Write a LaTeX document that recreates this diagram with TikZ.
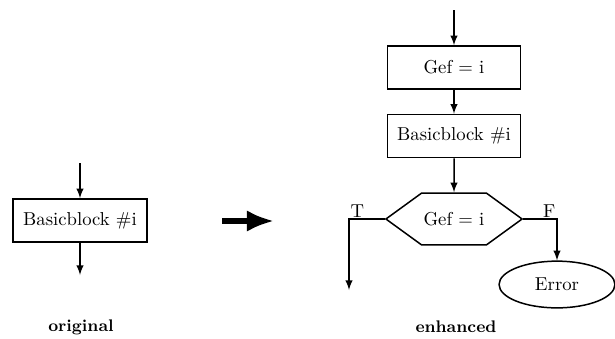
\documentclass[tikz,border=0pt]{standalone}
\usetikzlibrary{shapes.symbols,shapes.geometric,arrows.meta}
\begin{document}
\begin{tikzpicture}[x=0.535pt,y=-0.535pt,
  block/.style={rectangle,draw=black,thick,minimum width=71pt,minimum height=23pt,inner sep=2pt},
  test/.style={signal,signal to=west and east,signal pointer angle=72,draw=black,thick,minimum width=72.8pt,minimum height=27.8pt,inner sep=1pt},
  stop/.style={ellipse,draw=black,thick,minimum width=62pt,minimum height=25pt,inner sep=1pt},
  caption/.style={font=\small\bfseries},
  flow/.style={-latex,thick}]
\useasboundingbox (0,0) rectangle (615,338);

% original
\coordinate (ltop) at (80,163);
\node[block,minimum width=71.7pt] (lbb) at (80,220.5) {Basicblock \#i};
\coordinate (lend) at (80,275);
\node[caption] (orig) at (81,327) {original};

\draw[flow] (ltop) -- (lbb);
\draw[flow] (lbb) -- (lend);

% transform
\coordinate (a1) at (222,221);
\coordinate (a2) at (274,221);
\draw[line width=2.7pt,-{Latex[length=14.5pt,width=11.5pt]}] (a1) -- (a2);

% enhanced
\coordinate (rtop) at (454,10);
\node[block] (gef)  at (454,67.5) {Gef = i};
\node[block] (bb)   at (454,136)  {Basicblock \#i};
\node[test]  (hex)  at (454,219)  {Gef = i};
\coordinate (tend) at (349,290);
\node[stop]  (err)  at (557,284.5) {Error};
\node[caption] (enh) at (456,327) {enhanced};

\draw[flow] (rtop) -- (gef);
\draw[flow] (gef) -- (bb);
\draw[flow] (bb) -- (hex);
\draw[flow] (hex.west) -| node[pos=0.5,above right,inner sep=0.5pt] {T} (tend);
\draw[flow] (hex.east) -| node[pos=0.5,above left,inner sep=0.5pt] {F} (err);

\end{tikzpicture}
\end{document}
